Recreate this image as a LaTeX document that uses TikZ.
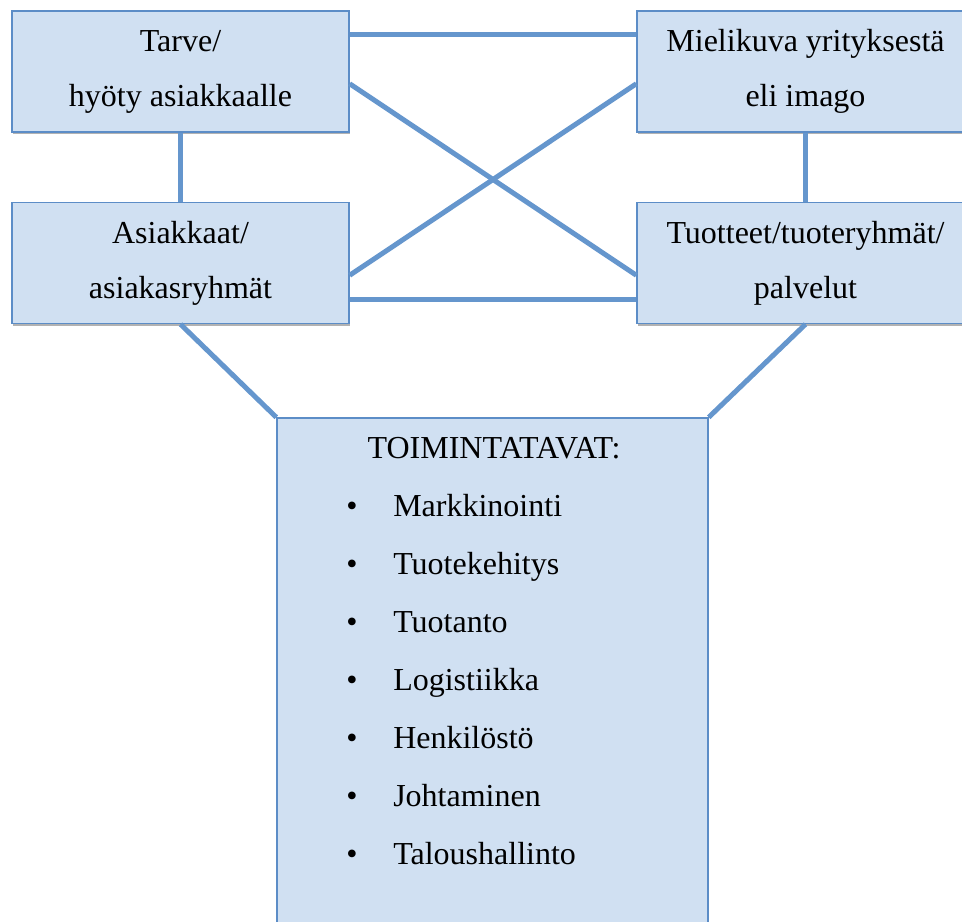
\documentclass[tikz,border=0pt]{standalone}
\usepackage{fontspec}
\setmainfont{Liberation Serif}
\usetikzlibrary{positioning}
\usetikzlibrary{calc}
\usetikzlibrary{shadows}

\definecolor{boxfill}{RGB}{208,224,242}
\definecolor{boxline}{RGB}{92,141,199}
\definecolor{linkline}{RGB}{101,150,205}

\begin{document}
\begin{tikzpicture}[x=0.75pt, y=-0.75pt,
  box/.style={draw=boxline, line width=1.1pt, fill=boxfill, minimum width=252.75pt, minimum height=90.75pt, align=center, inner sep=0pt, font=\fontsize{24}{41.25}\selectfont, drop shadow={shadow xshift=0.8pt, shadow yshift=-1.5pt, opacity=0.3, fill=black}},
  link/.style={draw=linkline, line width=3.75pt},
  listitem/.style={inner sep=0pt, font=\fontsize{24}{24}\selectfont}]
\useasboundingbox (0,0) rectangle (962,921);
\node[box] (tarve) at (180.5, 71.5) {Tarve/\\hyöty asiakkaalle};
\node[box] (imago) at (805.5, 71.5) {Mielikuva yrityksestä\\eli imago};
\node[box] (asiakkaat) at (180.5, 263) {Asiakkaat/\\asiakasryhmät};
\node[box] (tuotteet) at (805.5, 263) {Tuotteet/tuoteryhmät/\\palvelut};
\node[box, minimum width=323.25pt, minimum height=399pt] (toiminta) at (492.5, 684) {};
\node[listitem, anchor=base] (otsikko) at (494, 458) {TOIMINTATAVAT:};
\foreach \tehtava [count=\i] in {Markkinointi, Tuotekehitys, Tuotanto, Logistiikka, Henkilöstö, Johtaminen, Taloushallinto} {
  \node[listitem, anchor=base] (b\i) at (352, 458+58*\i) {\textbullet};
  \node[listitem, anchor=base west] (t\i) at (393, 458+58*\i) {\tehtava};
}
\draw[link] ($(tarve.north east)!0.2!(tarve.south east)$) -- ($(imago.north west)!0.2!(imago.south west)$);
\draw[link] ($(tarve.north east)!0.6!(tarve.south east)$) -- ($(tuotteet.north west)!0.6!(tuotteet.south west)$);
\draw[link] ($(asiakkaat.north east)!0.6!(asiakkaat.south east)$) -- ($(imago.north west)!0.6!(imago.south west)$);
\draw[link] ($(asiakkaat.north east)!0.8!(asiakkaat.south east)$) -- ($(tuotteet.north west)!0.8!(tuotteet.south west)$);
\draw[link] (tarve.south) -- (asiakkaat.north);
\draw[link] (imago.south) -- (tuotteet.north);
\draw[link] (asiakkaat.south) -- (toiminta.north west);
\draw[link] (tuotteet.south) -- (toiminta.north east);
\end{tikzpicture}
\end{document}
